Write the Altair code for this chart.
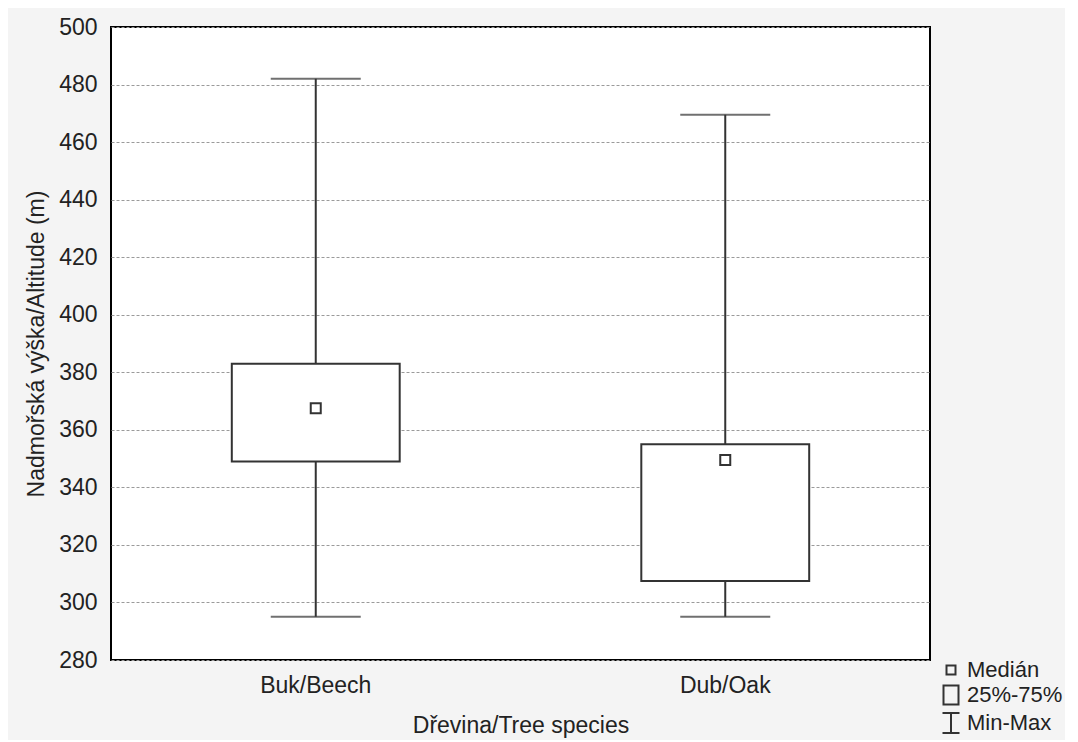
import altair as alt
import pandas as pd

categories = ["Buk/Beech", "Dub/Oak"]
mins = [295, 295]
q1s = [349, 307.5]
medians = [367.5, 349.5]
q3s = [383, 355]
maxs = [482, 469.5]

legend_labels = ["Medián", "25%-75%", "Min-Max"]
legend_paths = [
    "M-0.45,-0.45H0.45V0.45H-0.45Z",
    "M-0.75,-0.95H0.75V0.95H-0.75Z",
    "M-0.85,-1H0.85M0,-1V1M-0.85,1H0.85",
]

y_ticks = list(range(280, 501, 20))

df = pd.DataFrame({
    "cat": categories, "min": mins, "q1": q1s, "med": medians, "q3": q3s, "max": maxs,
})
leg = pd.DataFrame({"lab": legend_labels})

FONT = "Liberation Sans"
LINE = "#333333"

x_enc = alt.X(
    "cat:N",
    sort=categories,
    scale=alt.Scale(type="band", paddingInner=0, paddingOuter=0),
    axis=alt.Axis(
        title="Dřevina/Tree species",
        labelAngle=0,
        ticks=False,
        tickSize=0,
        domain=False,
        grid=False,
        labelPadding=14,
        titlePadding=17,
    ),
)
y_scale = alt.Scale(domain=[280, 500], nice=False, zero=False)
y_axis = alt.Axis(
    title="Nadmořská výška/Altitude (m)",
    values=y_ticks,
    ticks=False,
    tickSize=0,
    domain=False,
    grid=True,
    gridDash=[3, 2],
    gridColor="#9a9a9a",
    gridWidth=1,
    labelPadding=14,
    titlePadding=10,
)

base = alt.Chart(df)

whisker = base.mark_rule(color=LINE, strokeWidth=2).encode(
    x=x_enc,
    y=alt.Y("min:Q", scale=y_scale, axis=y_axis),
    y2="max:Q",
)
cap_lo = base.mark_tick(color=LINE, size=90, thickness=2).encode(
    x=x_enc, y=alt.Y("min:Q", scale=y_scale)
)
cap_hi = base.mark_tick(color=LINE, size=90, thickness=2).encode(
    x=x_enc, y=alt.Y("max:Q", scale=y_scale)
)
box = base.mark_bar(
    width=alt.RelativeBandSize(0.41), fill="white", stroke=LINE, strokeWidth=2
).encode(
    x=x_enc, y=alt.Y("q1:Q", scale=y_scale), y2="q3:Q"
)
med = base.mark_point(
    shape="square", size=100, filled=True, fill="white", stroke=LINE, strokeWidth=2, opacity=1
).encode(
    x=x_enc, y=alt.Y("med:Q", scale=y_scale)
)

legend_layer = alt.Chart(leg).mark_point(
    filled=False, color=LINE, strokeWidth=2, opacity=0
).encode(
    shape=alt.Shape(
        "lab:N",
        sort=legend_labels,
        scale=alt.Scale(domain=legend_labels, range=legend_paths),
        legend=alt.Legend(
            title=None,
            orient="none",
            legendX=829,
            legendY=632,
            symbolSize=400,
            symbolStrokeColor=LINE,
            symbolStrokeWidth=2,
            symbolOpacity=1,
            labelFont=FONT,
            labelFontSize=22,
            labelColor="#222222",
            labelOffset=5,
            rowPadding=0,
            padding=0,
        ),
    )
)

chart = alt.layer(whisker, cap_lo, cap_hi, box, med, legend_layer).properties(
    width=819,
    height=633,
    background="#f4f4f4",
    padding={"left": 103, "top": 19, "right": 135, "bottom": 80},
    autosize=alt.AutoSizeParams(type="none"),
    view=alt.ViewBackground(fill="white", stroke="black", strokeWidth=2),
).configure_axis(
    labelFont=FONT,
    titleFont=FONT,
    labelFontSize=23,
    titleFontSize=23,
    titleFontWeight="normal",
    labelColor="#222222",
    titleColor="#222222",
)

chart.save("out.html", embed_options={"renderer": "svg", "actions": False})
